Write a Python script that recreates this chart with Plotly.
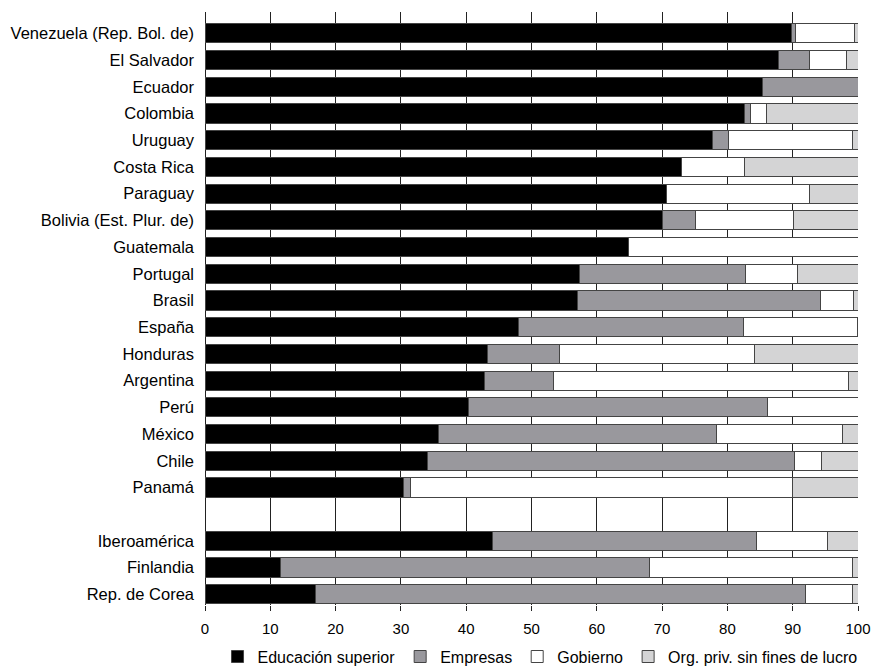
import plotly.graph_objects as go

# Distribución del gasto en I+D por sector de ejecución (%)
countries = [
    "Venezuela (Rep. Bol. de)", "El Salvador", "Ecuador", "Colombia", "Uruguay",
    "Costa Rica", "Paraguay", "Bolivia (Est. Plur. de)", "Guatemala", "Portugal",
    "Brasil", "España", "Honduras", "Argentina", "Perú", "México", "Chile",
    "Panamá", " ", "Iberoamérica", "Finlandia", "Rep. de Corea",
]

educacion = [89.8, 87.8, 85.3, 82.6, 77.7, 73.0, 70.6, 70.1, 64.8, 57.4,
             57.0, 48.0, 43.3, 42.8, 40.3, 35.8, 34.0, 30.4, None, 44.1, 11.5, 16.9]
empresas = [0.7, 4.8, 14.7, 0.9, 2.4, 0.0, 0.0, 5.0, 0.0, 25.4,
            37.2, 34.4, 11.0, 10.5, 45.8, 42.5, 56.2, 1.0, None, 40.3, 56.5, 75.0]
gobierno = [8.9, 5.6, 0.0, 2.5, 19.1, 9.6, 21.9, 15.0, 35.2, 8.0,
            5.1, 17.5, 29.8, 45.2, 13.9, 19.3, 4.2, 58.5, None, 11.0, 31.2, 7.2]
org_priv = [0.6, 1.8, 0.0, 14.0, 0.8, 17.4, 7.5, 9.9, 0.0, 9.2,
            0.7, 0.1, 15.9, 1.5, 0.0, 2.4, 5.6, 10.1, None, 4.6, 0.8, 0.9]

series = [
    ("Educación superior", educacion, "#000000"),
    ("Empresas", empresas, "#99989d"),
    ("Gobierno", gobierno, "#ffffff"),
    ("Org. priv. sin fines de lucro", org_priv, "#d4d4d5"),
]

fig = go.Figure()

for name, values, color in series:
    fig.add_trace(
        go.Bar(
            y=countries,
            x=values,
            name=name,
            orientation="h",
            width=0.72,
            marker={"color": color, "line": {"color": "#444444", "width": 1}},
        )
    )

fig.update_layout(
    barmode="stack",
    width=871,
    height=670,
    margin={"l": 205, "r": 13, "t": 12, "b": 65, "autoexpand": False},
    plot_bgcolor="white",
    paper_bgcolor="white",
    font={"family": "Liberation Sans, Arial, sans-serif", "size": 16.5, "color": "#000000"},
    legend={
        "orientation": "h",
        "xref": "container",
        "yref": "container",
        "x": 0.62,
        "xanchor": "center",
        "y": 0.02,
        "yanchor": "middle",
        "font": {"size": 16},
        "itemwidth": 30,
        "traceorder": "normal",
    },
)

fig.update_xaxes(
    range=[0, 100],
    tickvals=list(range(0, 101, 10)),
    tickfont={"size": 15},
    showgrid=True,
    gridcolor="#222222",
    gridwidth=1,
    zeroline=True,
    zerolinecolor="#222222",
    zerolinewidth=1,
    ticks="outside",
    ticklen=5,
    tickcolor="#222222",
    showline=False,
    ticklabelstandoff=5,
    ticklabeloverflow="allow",
)

fig.update_yaxes(
    categoryorder="array",
    categoryarray=countries,
    range=[21.4, -0.8],
    showgrid=False,
    zeroline=False,
    ticks="",
    ticklabelstandoff=10,
)

# drop the default page margin so the 871x670 figure fills the window
fig.write_html(
    "out.html",
    config={"displayModeBar": False},
    post_script="document.body.style.margin = '0';",
)
